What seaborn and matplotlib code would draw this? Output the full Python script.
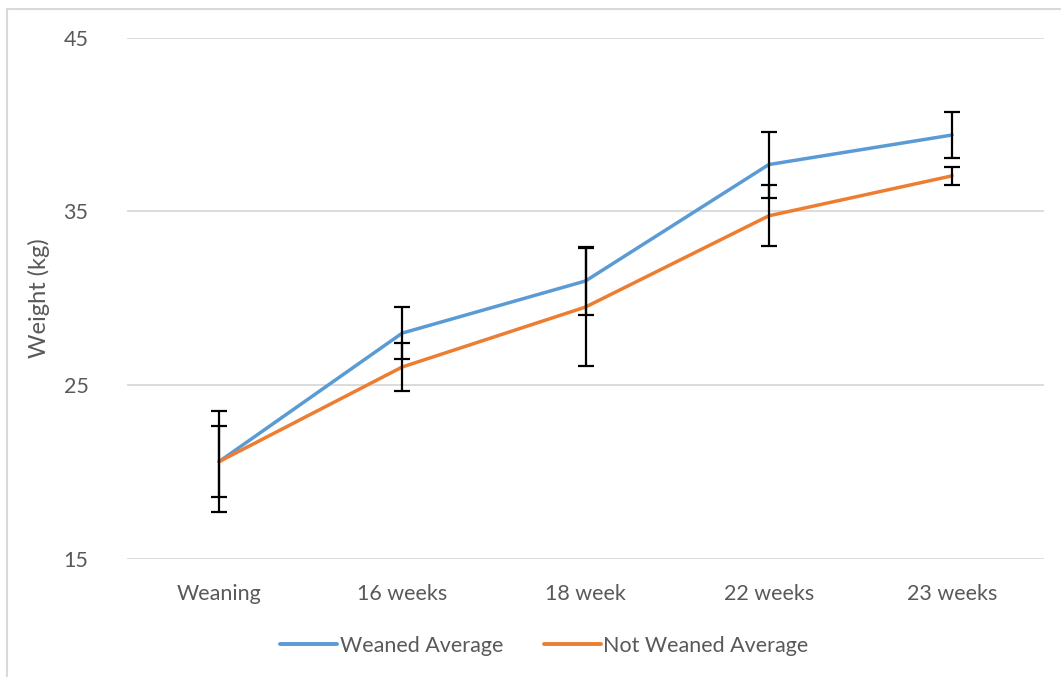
import numpy as np
import pandas as pd
import matplotlib
matplotlib.use("Agg")
import matplotlib.pyplot as plt
import seaborn as sns

# Data
stages = ["Weaning", "16 weeks", "18 week", "22 weeks", "23 weeks"]
weaned_avg = [20.6, 28.0, 31.0, 37.7, 39.4]
weaned_err = [2.9, 1.5, 1.95, 1.9, 1.3]
not_weaned_avg = [20.6, 26.05, 29.5, 34.75, 37.05]
not_weaned_err = [2.05, 1.4, 3.4, 1.75, 0.5]

blue = "#5B9BD5"
orange = "#ED7D31"
text_col = "#595959"

df = pd.DataFrame({
    "stage": stages * 2,
    "weight": weaned_avg + not_weaned_avg,
    "group": ["Weaned Average"] * len(stages) + ["Not Weaned Average"] * len(stages),
})

sns.set_theme(style="white")
plt.rcParams["font.family"] = ["Lato", "DejaVu Sans"]

fig = plt.figure(figsize=(10.61, 6.77), dpi=100)
ax = fig.add_axes([0.12, 0.1743, 0.8637, 0.770])

sns.lineplot(data=df, x="stage", y="weight", hue="group",
             palette=[blue, orange], linewidth=2.5, ax=ax, sort=False)

xpos = np.arange(len(stages))
for avg, err in [(weaned_avg, weaned_err), (not_weaned_avg, not_weaned_err)]:
    ax.errorbar(xpos, avg, yerr=err, fmt="none", ecolor="black",
                elinewidth=1.6, capsize=6, capthick=1.6, zorder=5)

ax.set_xlim(-0.5, len(stages) - 0.5)
ax.set_ylim(15, 45)
ax.set_yticks([15, 25, 35, 45])
ax.yaxis.grid(True, color="#D9D9D9", linewidth=1.3)
ax.set_axisbelow(True)
for s in ax.spines.values():
    s.set_visible(False)
ax.tick_params(axis="both", length=0, labelsize=15.5, colors=text_col)
ax.tick_params(axis="x", pad=18)
ax.tick_params(axis="y", pad=28)
ax.set_xlabel("")
ax.set_ylabel("Weight (kg)", fontsize=17, color=text_col, labelpad=10)

leg = ax.legend(loc="upper center", bbox_to_anchor=(0.455, -0.11), ncol=2,
                frameon=False, fontsize=15.5, handlelength=2.65, handletextpad=0.1,
                columnspacing=1.9)
for t in leg.get_texts():
    t.set_color(text_col)
for h in leg.get_lines():
    h.set_linewidth(2.8)

# light frame visible on the left and top of the reference
fig.add_artist(plt.Line2D([0.0063, 0.0063], [0, 0.987], color="#D9D9D9", linewidth=1.5))
fig.add_artist(plt.Line2D([0.0063, 1.0], [0.987, 0.987], color="#D9D9D9", linewidth=1.5))

fig.savefig("out.png", dpi=100)
